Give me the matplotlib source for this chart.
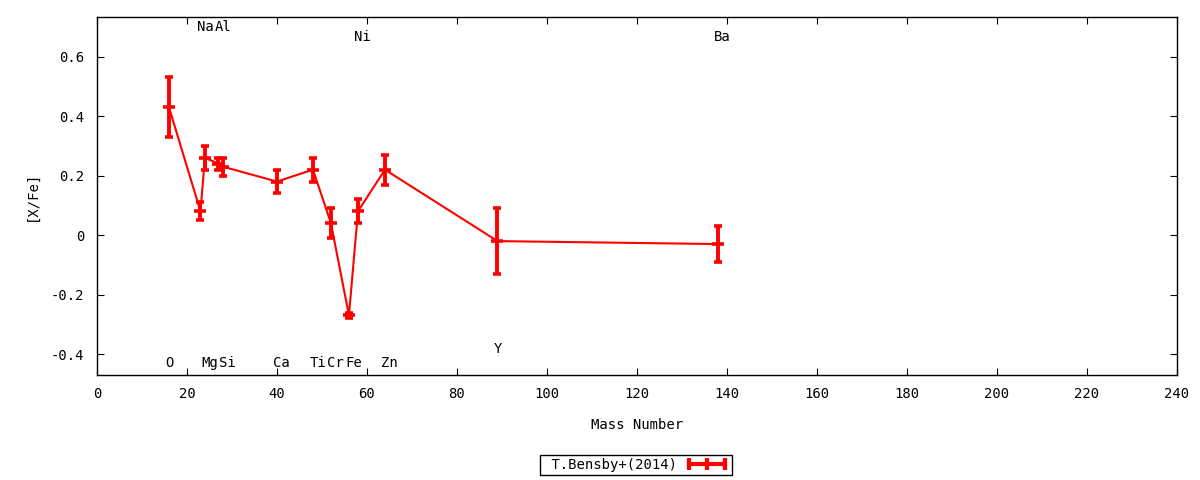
import matplotlib.pyplot as plt
from matplotlib.lines import Line2D

plt.rcParams['font.family'] = ['DejaVu Sans Mono']
plt.rcParams['font.size'] = 10

# 元素、质量数、丰度和误差
elements = ['O', 'Na', 'Mg', 'Al', 'Si', 'Ca', 'Ti', 'Cr', 'Fe', 'Ni', 'Zn', 'Y', 'Ba']
mass = [16, 23, 24, 27, 28, 40, 48, 52, 56, 58, 64, 89, 138]
xfe = [0.43, 0.08, 0.26, 0.24, 0.23, 0.18, 0.22, 0.04, -0.27, 0.08, 0.22, -0.02, -0.03]
err = [0.10, 0.03, 0.04, 0.02, 0.03, 0.04, 0.04, 0.05, 0.01, 0.04, 0.05, 0.11, 0.06]
# 标签的高度 (上方 / 下方)
label_y = [-0.43, 0.70, -0.43, 0.70, -0.43, -0.43, -0.43, -0.43, -0.43, 0.666, -0.43, -0.383, 0.666]

fig = plt.figure(figsize=(12, 4.8), dpi=100)
ax = fig.add_axes([0.0808, 0.21875, 0.9, 0.7458])

ax.errorbar(mass, xfe, yerr=err, color='red', lw=1.5, elinewidth=2.8,
            capsize=3.2, capthick=2.6, marker='_', ms=8, mew=2.6)

for el, m, ly in zip(elements, mass, label_y):
    ax.text(m - 0.8, ly, el, ha='left', va='center', color='black')

ax.set_xlim(0, 240)
ax.set_ylim(-0.47, 0.733)
ax.set_xticks(range(0, 241, 20))
ax.set_yticks([-0.4, -0.2, 0, 0.2, 0.4, 0.6])
ax.set_yticklabels(['-0.4', '-0.2', '0', '0.2', '0.4', '0.6'])
ax.tick_params(axis='both', direction='in', top=True, right=True, length=5, width=0.8)
ax.tick_params(axis='y', pad=9)
ax.tick_params(axis='x', pad=9)
for s in ax.spines.values():
    s.set_linewidth(1.0)

ax.set_xlabel('Mass Number', labelpad=12)
ax.set_ylabel('[X/Fe]', labelpad=9)

handle = Line2D([], [], color='red', lw=3, marker='|', ms=9, mew=3)
fig.legend([handle], [' T.Bensby+(2014)'], loc='center', bbox_to_anchor=(0.53, 0.031),
           markerfirst=False, numpoints=3, fancybox=False, edgecolor='black',
           framealpha=1, borderpad=0.2, handlelength=3.2, handletextpad=0.6,
           borderaxespad=0)

fig.savefig('out.png', dpi=100)
